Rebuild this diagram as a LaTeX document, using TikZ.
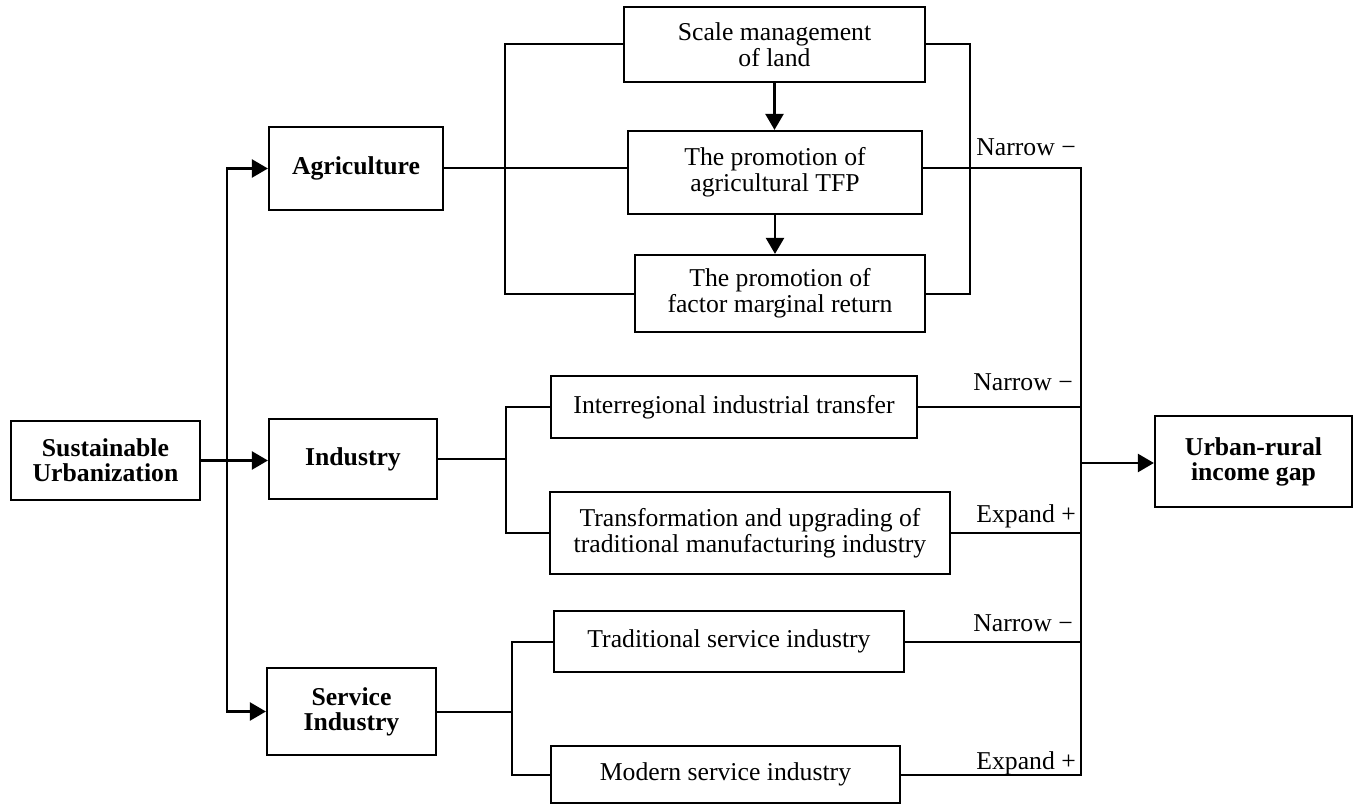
\documentclass[tikz,border=0pt]{standalone}
\usepackage{fontspec}
\setmainfont{Liberation Serif}
\usetikzlibrary{arrows.meta}

\begin{document}
\begin{tikzpicture}[x=1pt,y=-1pt,
    box/.style={draw,line width=2.2pt,align=center,inner sep=0pt,
        font=\fontsize{25.7}{26}\selectfont},
    keybox/.style={box,font=\fontsize{25.7}{25}\selectfont\bfseries},
    lbl/.style={inner sep=0pt,anchor=base east,font=\fontsize{25.7}{26}\selectfont},
    link/.style={line width=2pt},
    arr/.style={line width=2.4pt,-{Triangle[length=16pt,width=18pt]}}]
\useasboundingbox (0,0) rectangle (1358,805);

% left side
\node[keybox,minimum width=189,minimum height=79] (su) at (105.5,460.5) {Sustainable\\Urbanization};
\node[keybox,minimum width=174,minimum height=83] (agri) at (356,168.5) {Agriculture};
\node[keybox,minimum width=168,minimum height=80] (ind) at (353,459) {Industry};
\node[keybox,minimum width=169,minimum height=87] (serv) at (351.5,711.5) {Service\\Industry};

% agriculture channel
\node[box,minimum width=301,minimum height=75] (land) at (774.5,44.5) {Scale management\\of land};
\node[box,minimum width=294,minimum height=83] (tfp) at (775,172.5) {The promotion of\\agricultural TFP};
\node[box,minimum width=290,minimum height=77] (ret) at (780,293.5) {The promotion of\\factor marginal return};

% industry channel
\node[box,minimum width=366,minimum height=62] (itr) at (734,407) {Interregional industrial transfer};
\node[box,minimum width=400,minimum height=82] (upg) at (750,533) {Transformation and upgrading of\\traditional manufacturing industry};

% service channel
\node[box,minimum width=350,minimum height=61] (tsi) at (729,641.5) {Traditional service industry};
\node[box,minimum width=349,minimum height=57] (msi) at (725.5,774.5) {Modern service industry};

\node[keybox,minimum width=197,minimum height=91] (gap) at (1253.5,461.5) {Urban-rural\\income gap};

\coordinate (split) at (227,461);
\coordinate (agL) at (505,170);
\coordinate (agR) at (970,170);
\coordinate (indB) at (506,459);
\coordinate (srvB) at (512,713);
\coordinate (join) at (1081,463);

% connectors
\draw[arr] (su.east) -- (ind.west |- su.east);
\draw[arr] (split) |- (agri.west);
\draw[arr] (split) |- (serv.west);

\draw[link] (agri.east) -- (agri.east -| tfp.west);
\draw[link] (land.west) -| (agL) |- (ret.west);
\draw[link] (land.east) -| (agR) |- (ret.east);
\draw[arr] (land.south) -- (land.south |- tfp.north);
\draw[arr] (tfp.south) -- (tfp.south |- ret.north);

\draw[link] (ind.east) -- (ind.east -| indB);
\draw[link] (itr.west) -| (indB) |- (upg.west);
\draw[link] (serv.east) -- (serv.east -| srvB);
\draw[link] (tsi.west) -| (srvB) |- (msi.west);

\draw[link] (tfp.east |- agri.east) -| (join);
\draw[link] (itr.east) -| (join);
\draw[link] (upg.east) -| (join);
\draw[link] (tsi.east) -| (join);
\draw[link] (msi.east) -| (join);
\draw[arr] (join) -- (gap.west |- join);

% effect labels
\node[lbl] (n1) at (1076,156) {Narrow −};
\node[lbl] (n2) at (1073,390) {Narrow −};
\node[lbl] (e1) at (1076,522) {Expand +};
\node[lbl] (n3) at (1073,631) {Narrow −};
\node[lbl] (e2) at (1076,769) {Expand +};
\end{tikzpicture}
\end{document}
